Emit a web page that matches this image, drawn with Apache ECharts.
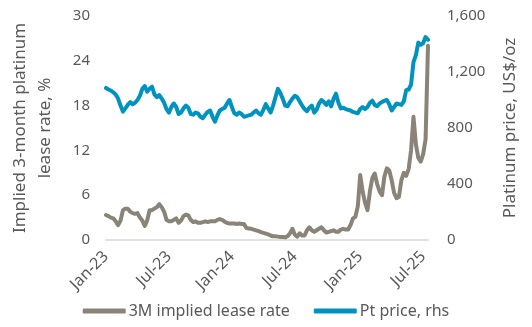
<!DOCTYPE html>
<html>
<head>
<meta charset="utf-8">
<script src="https://cdn.jsdelivr.net/npm/echarts@6/dist/echarts.min.js"></script>
<style>html,body{margin:0;padding:0;background:#fff}#c{width:532px;height:327px}</style>
</head>
<body>
<div id="c"></div>
<script>
// Weekly dates (Mondays)
const dates = [
'2023-01-02','2023-01-09','2023-01-16','2023-01-23','2023-01-30','2023-02-06','2023-02-13','2023-02-20','2023-02-27',
'2023-03-06','2023-03-13','2023-03-20','2023-03-27','2023-04-03','2023-04-10','2023-04-17','2023-04-24',
'2023-05-01','2023-05-08','2023-05-15','2023-05-22','2023-05-29','2023-06-05','2023-06-12','2023-06-19','2023-06-26',
'2023-07-03','2023-07-10','2023-07-17','2023-07-24','2023-07-31','2023-08-07','2023-08-14','2023-08-21','2023-08-28',
'2023-09-04','2023-09-11','2023-09-18','2023-09-25','2023-10-02','2023-10-09','2023-10-16','2023-10-23','2023-10-30',
'2023-11-06','2023-11-13','2023-11-20','2023-11-27','2023-12-04','2023-12-11','2023-12-18','2023-12-25',
'2024-01-01','2024-01-08','2024-01-15','2024-01-22','2024-01-29','2024-02-05','2024-02-12','2024-02-19','2024-02-26',
'2024-03-04','2024-03-11','2024-03-18','2024-03-25','2024-04-01','2024-04-08','2024-04-15','2024-04-22','2024-04-29',
'2024-05-06','2024-05-13','2024-05-20','2024-05-27','2024-06-03','2024-06-10','2024-06-17','2024-06-24',
'2024-07-01','2024-07-08','2024-07-15','2024-07-22','2024-07-29','2024-08-05','2024-08-12','2024-08-19','2024-08-26',
'2024-09-02','2024-09-09','2024-09-16','2024-09-23','2024-09-30','2024-10-07','2024-10-14','2024-10-21','2024-10-28',
'2024-11-04','2024-11-11','2024-11-18','2024-11-25','2024-12-02','2024-12-09','2024-12-16','2024-12-23','2024-12-30',
'2025-01-06','2025-01-13','2025-01-20','2025-01-27','2025-02-03','2025-02-10','2025-02-17','2025-02-24',
'2025-03-03','2025-03-10','2025-03-17','2025-03-24','2025-03-31','2025-04-07','2025-04-14','2025-04-21','2025-04-28',
'2025-05-05','2025-05-12','2025-05-19','2025-05-26','2025-06-02','2025-06-09','2025-06-16','2025-06-23','2025-06-30',
'2025-07-07','2025-07-14','2025-07-21'
];

// 3M implied lease rate, %
const leaseRate = [
3.35,3.2,3.0,2.9,2.5,2.0,2.6,4.0,4.2,4.2,3.8,3.6,3.5,3.6,3.0,2.6,1.9,2.6,4.0,4.0,
4.2,4.4,4.8,4.4,3.8,2.7,2.5,2.5,2.7,2.9,2.3,2.6,3.2,3.4,3.3,2.7,2.4,2.5,2.3,2.3,
2.4,2.5,2.4,2.5,2.5,2.5,2.7,2.8,2.7,2.45,2.3,2.2,2.2,2.2,2.15,2.2,2.15,2.15,1.6,1.55,
1.5,1.4,1.3,1.2,1.05,0.95,0.85,0.75,0.6,0.5,0.5,0.45,0.4,0.4,0.35,0.5,0.9,1.5,0.7,0.45,
0.9,0.6,0.6,1.3,1.7,1.3,1.1,1.3,1.5,1.7,1.3,1.0,1.1,1.2,1.3,1.1,1.1,1.4,1.5,1.4,
1.4,2.0,2.9,3.1,4.5,8.7,6.5,5.0,4.0,6.5,8.3,8.9,7.5,6.5,6.0,8.5,9.6,9.3,8.0,6.3,
5.6,5.8,8.0,9.0,8.6,9.5,12.0,16.5,12.8,11.0,10.5,11.5,13.5,26.0
];

// Pt price, US$/oz (rhs)
const ptPrice = [
1086,1075,1068,1055,1040,1010,960,917,940,965,985,970,980,1000,1030,1080,1100,1060,1080,1095,
1040,1020,1035,1010,980,935,910,950,975,950,900,910,940,960,945,900,895,910,905,880,
870,895,915,925,880,845,890,925,935,945,975,1000,950,905,895,910,900,880,885,890,
895,910,925,905,895,930,970,940,910,960,1020,1080,1050,1010,960,955,985,1010,1030,1020,
990,960,935,920,945,960,910,930,975,1000,985,965,990,955,1010,1045,980,940,945,935,
930,925,915,910,905,935,950,935,950,980,995,965,955,975,985,995,1000,970,925,950,
975,970,965,990,1070,1075,1110,1270,1320,1410,1395,1405,1450,1430
];

const leftTicks = [0, 6, 12, 18, 24, 30];
const rightTicks = [0, 400, 800, 1200, 1600];
const seriesNames = ['3M implied lease rate', 'Pt price, rhs'];
const monthAbbr = ['Jan','Feb','Mar','Apr','May','Jun','Jul','Aug','Sep','Oct','Nov','Dec'];

const FONT = 'Noto Sans';
const TXT = '#595959';

function isLabelDate(s) {
  const m = +s.slice(5, 7), d = +s.slice(8, 10);
  return (m === 1 || m === 7) && d <= 7;
}

const chart = echarts.init(document.getElementById('c'), null, {renderer: 'canvas'});
chart.setOption({
  animation: false,
  textStyle: {fontFamily: FONT},
  grid: {left: 96, right: 104, top: 16, bottom: 87, containLabel: false},
  legend: {
    bottom: 3,
    left: 'center',
    itemWidth: 43,
    itemHeight: 5,
    itemGap: 24,
    icon: 'roundRect',
    textStyle: {fontFamily: FONT, fontSize: 16, color: TXT, padding: [0, 0, 0, -2]},
    data: seriesNames
  },
  xAxis: {
    type: 'category',
    data: dates,
    boundaryGap: false,
    axisLine: {lineStyle: {color: '#d9d9d9', width: 1.5}},
    axisTick: {show: false},
    splitLine: {show: false},
    axisLabel: {
      interval: (i, v) => isLabelDate(v),
      rotate: 45,
      margin: 14,
      fontFamily: FONT,
      fontSize: 16,
      color: TXT,
      formatter: v => monthAbbr[+v.slice(5, 7) - 1] + '-' + v.slice(2, 4)
    }
  },
  yAxis: [
    {
      type: 'value', min: 0, max: 30, interval: 6,
      name: 'Implied 3-month platinum\nlease rate, %',
      nameLocation: 'middle', nameGap: 48, nameRotate: 90,
      nameTextStyle: {fontFamily: FONT, fontSize: 17, color: TXT, lineHeight: 25},
      axisLine: {show: false}, axisTick: {show: false}, splitLine: {show: false},
      axisLabel: {margin: 16, fontFamily: FONT, fontSize: 15, color: TXT}
    },
    {
      type: 'value', min: 0, max: 1600, interval: 400,
      name: 'Platinum price, US$/oz',
      nameLocation: 'middle', nameGap: 74, nameRotate: 90,
      nameTextStyle: {fontFamily: FONT, fontSize: 17, color: TXT},
      axisLine: {show: false}, axisTick: {show: false}, splitLine: {show: false},
      axisLabel: {margin: 19, fontFamily: FONT, fontSize: 15, color: TXT,
        formatter: v => v.toLocaleString('en-US')}
    }
  ],
  series: [
    {
      name: seriesNames[1], type: 'line', yAxisIndex: 1, data: ptPrice,
      showSymbol: false, symbol: 'none',
      lineStyle: {color: '#0093bf', width: 4, cap: 'round', join: 'round'},
      itemStyle: {color: '#0093bf'}, z: 2
    },
    {
      name: seriesNames[0], type: 'line', yAxisIndex: 0, data: leaseRate,
      showSymbol: false, symbol: 'none',
      lineStyle: {color: '#8a8378', width: 4, cap: 'round', join: 'round'},
      itemStyle: {color: '#8a8378'}, z: 3
    }
  ]
});
</script>
</body>
</html>
